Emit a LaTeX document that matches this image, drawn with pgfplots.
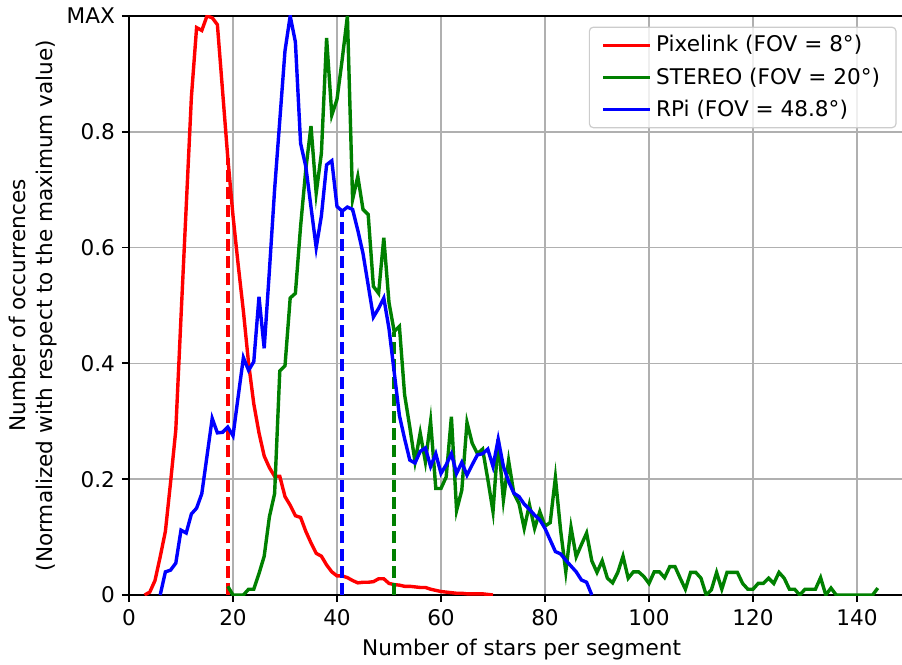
\documentclass[border=0pt]{standalone}
\usepackage{pgfplots}
\pgfplotsset{compat=1.18}
\usepackage{fontspec}
\setmainfont{DejaVu Sans}
\newcommand{\ff}{\fontsize{10.8bp}{13.5bp}\selectfont}
\definecolor{mplgreen}{RGB}{0,128,0}
\definecolor{gridgray}{RGB}{176,176,176}
\begin{document}
\begin{tikzpicture}
\useasboundingbox (-64.5bp,-35bp) rectangle (386.5bp,297.5bp);
\begin{axis}[
  scale only axis,
  width=392.6bp, height=289.5bp,
  xmin=0, xmax=151, ymin=0, ymax=1,
  xtick={0,20,...,140},
  ytick={0,0.2,0.4,0.6,0.8,1},
  yticklabels={0,0.2,0.4,0.6,0.8,MAX},
  /pgf/number format/assume math mode=true,
  tick label style={font=\ff},
  label style={font=\ff},
  tick align=outside, xtick pos=left, ytick pos=left,
  major tick length=3.5bp,
  every tick/.style={black, line width=0.9bp},
  axis line style={black, line width=0.9bp},
  grid=major,
  major grid style={gridgray, line width=0.8bp},
  xlabel={Number of stars per segment},
  ylabel={Number of occurrences\\(Normalized with respect to the maximum value)},
  xlabel style={at={(axis description cs:0.5,-0.095)}, anchor=center},
  ylabel style={at={(axis description cs:-0.1216,0.5)}, anchor=center, align=center},
  legend style={at={(rel axis cs:1,1)}, anchor=north east, xshift=-8.8bp, yshift=-5.3bp,
    font=\ff, fill=white, fill opacity=0.8, text opacity=1, draw opacity=1,
    draw=black!20, line width=0.6bp, rounded corners=2bp, row sep=2.4bp,
    inner xsep=6bp, inner ysep=2.2bp},
  legend cell align=left,
  legend image code/.code={\draw[#1, line width=1.7bp] (0bp,0bp) -- (23.7bp,0bp);},
  every axis plot/.append style={line width=1.7bp},
]
\addplot[red] coordinates {
(3,0.0) (4,0.005) (5,0.025) (6,0.066) (7,0.11) (8,0.195) (9,0.285) (10,0.48) (11,0.67) (12,0.86) (13,0.98) (14,0.975) (15,1.0) (16,0.997) (17,0.985) (18,0.87) (19,0.755) (20,0.655) (21,0.57) (22,0.49) (23,0.4) (24,0.33) (25,0.28) (26,0.24) (27,0.22) (28,0.205) (29,0.205) (30,0.17) (31,0.155) (32,0.137) (33,0.134) (34,0.11) (35,0.09) (36,0.072) (37,0.067) (38,0.052) (39,0.04) (40,0.033) (41,0.033) (42,0.03) (43,0.025) (44,0.021) (45,0.022) (46,0.022) (47,0.023) (48,0.028) (49,0.028) (50,0.02) (51,0.018) (52,0.017) (53,0.015) (54,0.015) (55,0.014) (56,0.013) (57,0.013) (58,0.01) (59,0.008) (60,0.006) (61,0.005) (62,0.004) (63,0.003) (64,0.003) (65,0.002) (66,0.002) (67,0.002) (68,0.002) (69,0.001) (70,0.0)
};
\addlegendentry{Pixelink (FOV = 8°)}
\addplot[red, line width=1.8bp, dash pattern=on 6bp off 2.6bp, forget plot] coordinates {(19,0) (19,0.755)};
\addplot[mplgreen] coordinates {
(19,0.015) (20,0) (21,0) (22,0) (23,0.01) (24,0.01) (25,0.037) (26,0.067) (27,0.135) (28,0.175) (29,0.387) (30,0.396) (31,0.513) (32,0.521) (33,0.637) (34,0.735) (35,0.81) (36,0.694) (37,0.763) (38,0.962) (39,0.829) (40,0.856) (41,0.925) (42,1.0) (43,0.683) (44,0.723) (45,0.666) (46,0.657) (47,0.533) (48,0.521) (49,0.617) (50,0.505) (51,0.455) (52,0.464) (53,0.346) (54,0.29) (55,0.23) (56,0.28) (57,0.23) (58,0.3) (59,0.184) (60,0.184) (61,0.204) (62,0.308) (63,0.146) (64,0.181) (65,0.298) (66,0.262) (67,0.244) (68,0.252) (69,0.2) (70,0.144) (71,0.269) (72,0.164) (73,0.232) (74,0.176) (75,0.158) (76,0.115) (77,0.156) (78,0.115) (79,0.144) (80,0.119) (81,0.125) (82,0.203) (83,0.112) (84,0.04) (85,0.117) (86,0.066) (87,0.087) (88,0.107) (89,0.059) (90,0.039) (91,0.059) (92,0.029) (93,0.021) (94,0.039) (95,0.067) (96,0.029) (97,0.04) (98,0.04) (99,0.032) (100,0.02) (101,0.04) (102,0.04) (103,0.03) (104,0.049) (105,0.049) (106,0.029) (107,0.01) (108,0.039) (109,0.039) (110,0.029) (111,0) (112,0.009) (113,0.039) (114,0.01) (115,0.039) (116,0.039) (117,0.039) (118,0.02) (119,0.01) (120,0.01) (121,0.02) (122,0.02) (123,0.029) (124,0.02) (125,0.039) (126,0.029) (127,0.01) (128,0.01) (129,0) (130,0.01) (131,0.01) (132,0.01) (133,0.03) (134,0) (135,0.012) (136,0) (137,0) (138,0) (139,0) (140,0) (141,0) (142,0) (143,0) (144,0.012)
};
\addlegendentry{STEREO (FOV = 20°)}
\addplot[mplgreen, line width=1.8bp, dash pattern=on 6bp off 2.6bp, forget plot] coordinates {(51,0) (51,0.455)};
\addplot[blue] coordinates {
(6,0) (7,0.04) (8,0.043) (9,0.055) (10,0.112) (11,0.107) (12,0.14) (13,0.15) (14,0.175) (15,0.24) (16,0.305) (17,0.28) (18,0.281) (19,0.29) (20,0.275) (21,0.343) (22,0.41) (23,0.388) (24,0.403) (25,0.515) (26,0.426) (27,0.56) (28,0.70) (29,0.82) (30,0.94) (31,1.0) (32,0.955) (33,0.78) (34,0.74) (35,0.67) (36,0.6) (37,0.655) (38,0.743) (39,0.75) (40,0.671) (41,0.663) (42,0.67) (43,0.666) (44,0.63) (45,0.59) (46,0.535) (47,0.48) (48,0.495) (49,0.513) (50,0.46) (51,0.385) (52,0.31) (53,0.27) (54,0.233) (55,0.228) (56,0.248) (57,0.254) (58,0.222) (59,0.244) (60,0.21) (61,0.225) (62,0.244) (63,0.21) (64,0.229) (65,0.207) (66,0.225) (67,0.242) (68,0.244) (69,0.252) (70,0.222) (71,0.269) (72,0.222) (73,0.196) (74,0.176) (75,0.17) (76,0.157) (77,0.148) (78,0.138) (79,0.13) (80,0.115) (81,0.095) (82,0.075) (83,0.071) (84,0.06) (85,0.05) (86,0.04) (87,0.026) (88,0.022) (89,0.0)
};
\addlegendentry{RPi (FOV = 48.8°)}
\addplot[blue, line width=1.8bp, dash pattern=on 6bp off 2.6bp, forget plot] coordinates {(41,0) (41,0.663)};
\end{axis}
\end{tikzpicture}
\end{document}
